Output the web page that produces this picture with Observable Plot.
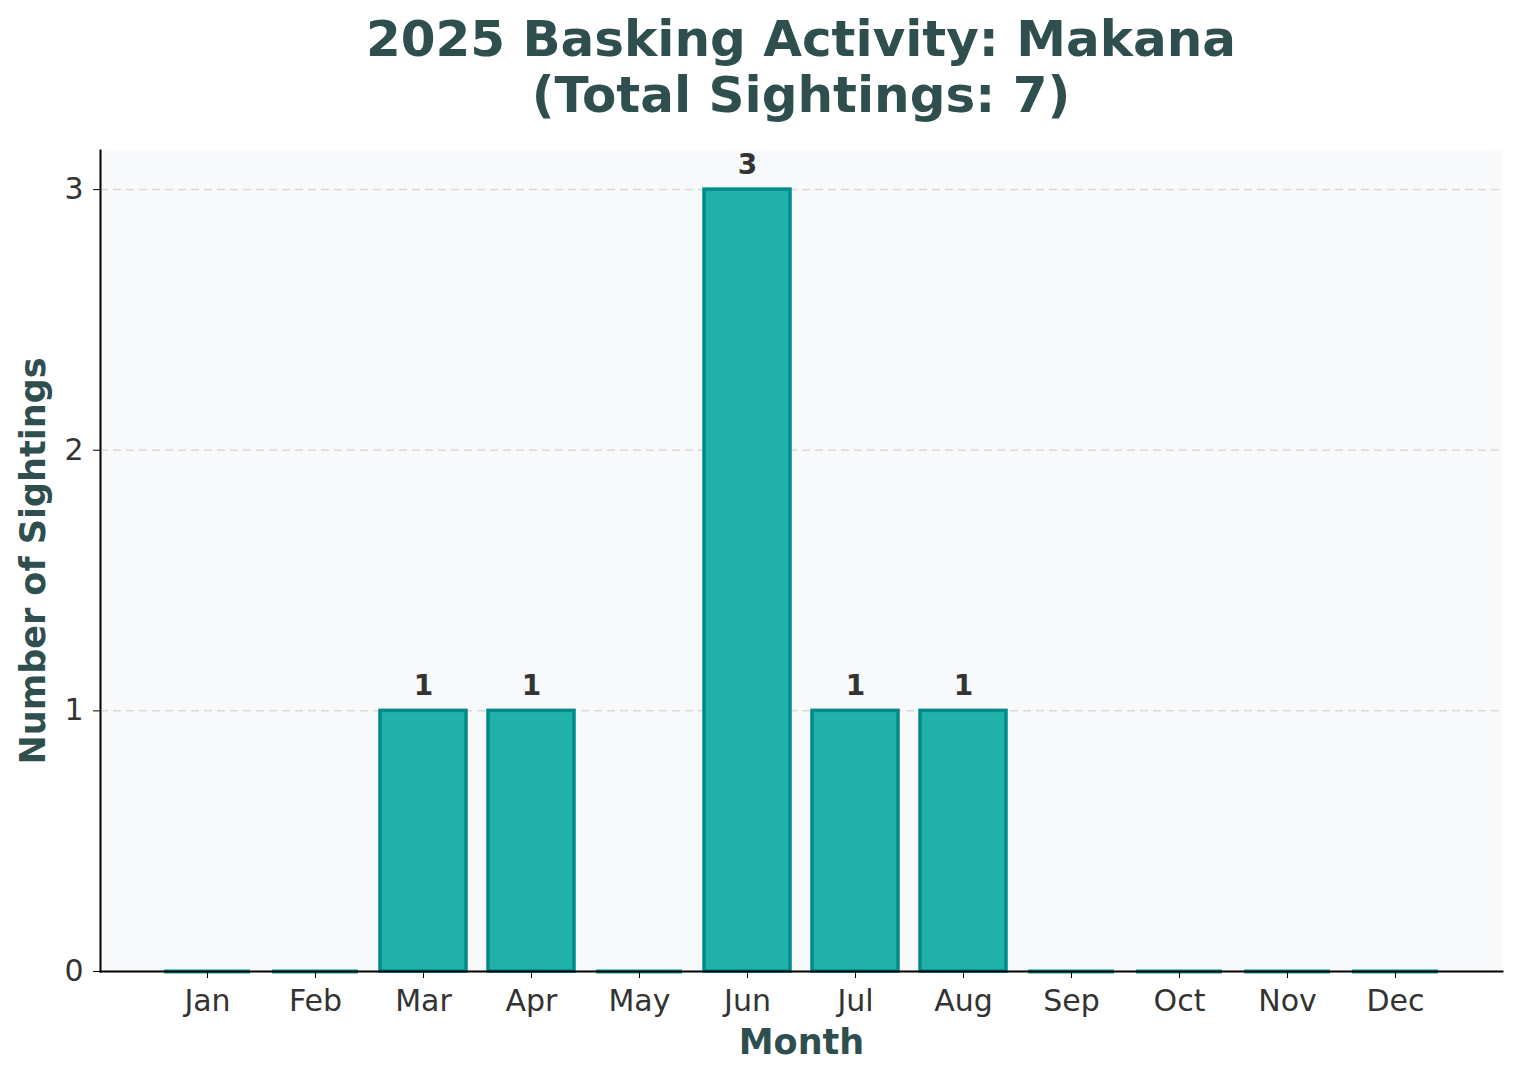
<!DOCTYPE html>
<html>
<head>
<meta charset="utf-8">
<script src="https://cdn.jsdelivr.net/npm/d3@7"></script>
<script src="https://cdn.jsdelivr.net/npm/@observablehq/plot@0.6"></script>
<style>
  html, body { margin: 0; padding: 0; background: #fff; }
  #wrap { width: 1519px; }
  #title {
    width: 1519px; box-sizing: border-box; padding-left: 83px;
    font-family: "DejaVu Sans", sans-serif; font-weight: bold; font-size: 50px;
    line-height: 56px; color: #2F4F4F; text-align: center;
    padding-top: 11px; height: 140px;
  }
</style>
</head>
<body>
<div id="wrap">
  <div id="title">2025 Basking Activity: Makana<br>(Total Sightings: 7)</div>
  <div id="chart"></div>
</div>
<script>
const months = ["Jan","Feb","Mar","Apr","May","Jun","Jul","Aug","Sep","Oct","Nov","Dec"];
const sightings = [0,0,1,1,0,3,1,1,0,0,0,0];
const yTicks = [0,1,2,3];
const gridTicks = [1,2,3];

const data = months.map((m, i) => ({month: m, count: sightings[i]}));
const nonZero = data.filter(d => d.count > 0);
const zero = data.filter(d => d.count === 0);

const chart = Plot.plot({
  width: 1519,
  height: 940,
  marginTop: 10,
  marginBottom: 109,
  marginLeft: 100,
  marginRight: 17,
  style: {fontFamily: "DejaVu Sans, sans-serif", fontSize: "30px", color: "#333", background: "#fff"},
  x: {domain: months, paddingInner: 0.2, paddingOuter: 0.59, label: null},
  y: {domain: [0, 3.15], label: null},
  marks: [
    Plot.frame({fill: "#F8F9FA", stroke: null}),
    Plot.ruleY(gridTicks, {stroke: "#d9d9d9", strokeWidth: 1.5, strokeDasharray: "8,5"}),
    Plot.barY(nonZero, {x: "month", y: "count", fill: "#20B2AA", stroke: "#008B8B", strokeWidth: 3.5}),
    Plot.tickY(zero, {x: "month", y: "count", stroke: "#0E9A96", strokeWidth: 4}),
    Plot.text(nonZero, {x: "month", y: "count", text: d => String(d.count), lineAnchor: "bottom", dy: -16,
      fontWeight: "bold", fontSize: 28, fill: "#333"}),
    Plot.axisX({tickSize: 7, tickPadding: 11, fontSize: 30, stroke: "#000", fill: "#333", label: null}),
    Plot.axisY({ticks: yTicks, tickFormat: d => String(d), tickSize: 7, tickPadding: 10, fontSize: 30, stroke: "#000", fill: "#333", label: null}),
    Plot.frame({anchor: "left", stroke: "#000", strokeWidth: 2}),
    Plot.frame({anchor: "bottom", stroke: "#000", strokeWidth: 2}),
    Plot.text(["Number of Sightings"], {frameAnchor: "left", text: d => d, rotate: -90, dx: -67,
      fontWeight: "bold", fontSize: 35, fill: "#2F4F4F", textAnchor: "middle", lineAnchor: "middle"}),
    Plot.text(["Month"], {frameAnchor: "bottom", text: d => d, dy: 71,
      fontWeight: "bold", fontSize: 35, fill: "#2F4F4F", textAnchor: "middle", lineAnchor: "middle"})
  ]
});
document.getElementById("chart").appendChild(chart);
</script>
</body>
</html>
